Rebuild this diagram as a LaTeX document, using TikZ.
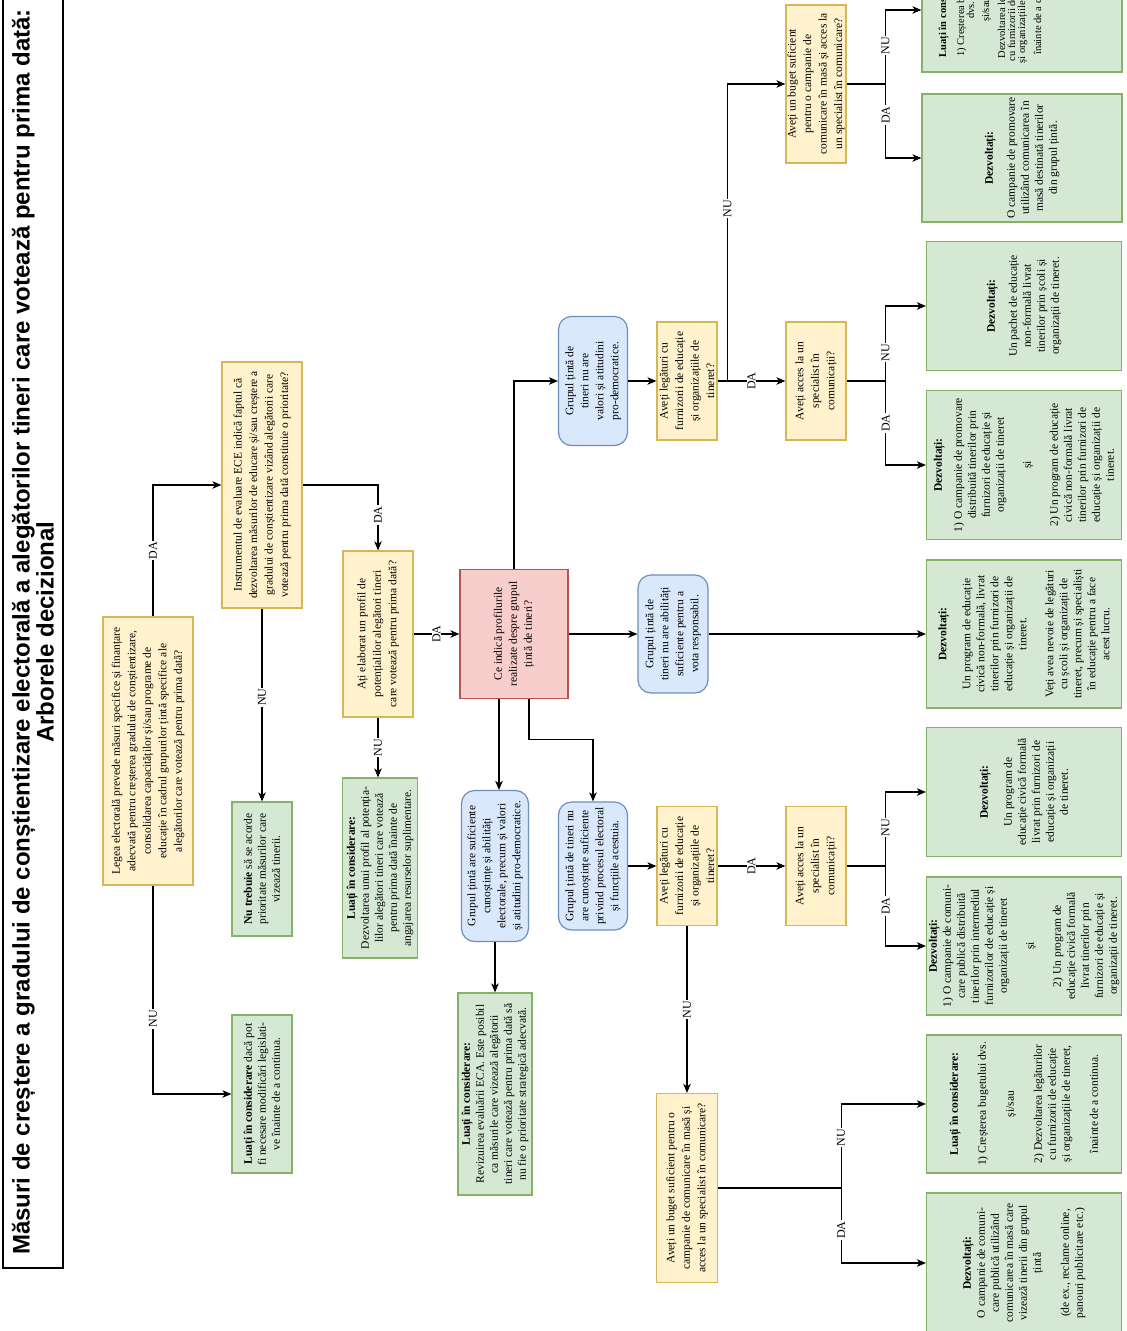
\documentclass[tikz,border=0pt]{standalone}
\usepackage{fontspec}
\setmainfont{Liberation Serif}
\newfontfamily\titlefont{Liberation Sans}
\usetikzlibrary{arrows.meta}

\definecolor{yelfill}{HTML}{FFF2CC}
\definecolor{yeldraw}{HTML}{D6B656}
\definecolor{grnfill}{HTML}{D5E8D4}
\definecolor{grndraw}{HTML}{82B366}
\definecolor{blufill}{HTML}{DAE8FC}
\definecolor{bludraw}{HTML}{6C8EBF}
\definecolor{rdfill}{HTML}{F8CECC}
\definecolor{rddraw}{HTML}{B85450}

\tikzset{
  sz/.style 2 args={minimum height=#1, minimum width=#2},
  card/.style={align=center, inner sep=1pt, line width=1.2pt},
  yelbox/.style={card, fill=yelfill, draw=yeldraw, font=\fontsize{11.5}{15.5}\selectfont},
  grnbox/.style={card, fill=grnfill, draw=grndraw, font=\fontsize{11.5}{14}\selectfont},
  blubox/.style={card, fill=blufill, draw=bludraw, rounded corners=13pt, font=\fontsize{11.5}{15}\selectfont},
  rdbox/.style={card, fill=rdfill, draw=rddraw, font=\fontsize{11.5}{15}\selectfont},
  arr/.style={-{Stealth[length=9pt,width=7.5pt,inset=2.5pt]}, line width=1.2pt},
  lbl/.style={fill=white, inner sep=1pt, font=\fontsize{12}{13}\selectfont},
}

\begin{document}
\begin{tikzpicture}[x=1pt, y=-1pt, every node/.style={rotate=90}]
\useasboundingbox (0,0) rectangle (1127,1331);
\clip (0,0) rectangle (1127,1331);

% title
\node[draw, line width=1.2pt, sz={60}{1272}, align=center, inner sep=0pt,
  font=\titlefont\bfseries\fontsize{24}{22}\selectfont] (title) at (33,632)
  {Măsuri de creștere a gradului de conștientizare electorală a alegătorilor tineri care votează pentru prima dată:\\Arborele decizional};

% first questions
\node[yelbox, sz={90}{268}] (lege) at (148,751) {Legea electorală prevede măsuri specifice și finanțare\\adecvată pentru creșterea gradului de conștientizare,\\consolidarea capacităților și/sau programe de\\educație în cadrul grupurilor țintă specifice ale\\alegătorilor care votează pentru prima dată?};
\node[yelbox, sz={80}{246}] (instr) at (262,485) {Instrumentul de evaluare ECE indică faptul că\\dezvoltarea măsurilor de educare și/sau creștere a\\gradului de conștientizare vizând alegătorii care\\votează pentru prima dată constituie o prioritate?};
\node[grnbox, sz={60}{134}] (noprio) at (262,869) {\textbf{Nu trebuie} să se acorde\\prioritate măsurilor care\\vizează tinerii.};
\node[grnbox, sz={60}{158}] (legis) at (262,1094) {\textbf{Luați în considerare} dacă pot\\fi necesare modificări legislati-\\ve înainte de a continua.};

\node[yelbox, sz={70}{166}] (profil) at (378,634) {Ați elaborat un profil de\\potențialilor alegători tineri\\care votează pentru prima dată?};
\node[grnbox, sz={75}{180}] (noprofil) at (380,868) {\textbf{Luați în considerare:}\\Dezvoltarea unui profil al potenția-\\lilor alegători tineri care votează\\pentru prima dată înainte de\\angajarea resurselor suplimentare.};

% profile results
\node[rdbox, sz={108}{129}] (ce) at (514,634) {Ce indică profilurile\\realizate despre grupul\\țintă de tineri?};
\node[blubox, sz={67}{151}] (suf) at (495,866) {Grupul țintă are suficiente\\cunoștințe și abilități\\electorale, precum și valori\\și atitudini pro-democratice.};
\node[grnbox, sz={74}{202}] (eca) at (495,1094) {\textbf{Luați în considerare:}\\Revizuirea evaluării ECA. Este posibil\\ca măsurile care vizează alegătorii\\tineri care votează pentru prima dată să\\nu fie o prioritate strategică adecvată.};

\node[blubox, sz={69}{129}] (val) at (593,381) {Grupul țintă de\\tineri nu are\\valori și atitudini\\pro-democratice.};
\node[blubox, sz={70}{118}] (abil) at (673,634) {Grupul țintă de\\tineri nu are abilități\\suficiente pentru a\\vota responsabil.};
\node[blubox, sz={69}{128}] (cun) at (593,866) {Grupul țintă de tineri nu\\are cunoștințe suficiente\\privind procesul electoral\\și funcțiile acestuia.};

\node[yelbox, sz={60}{118}] (leg1) at (687,381) {Aveți legături cu\\furnizorii de educație\\și organizațiile de\\tineret?};
\node[yelbox, sz={60}{119}] (leg2) at (687,866) {Aveți legături cu\\furnizorii de educație\\și organizațiile de\\tineret?};

\node[yelbox, sz={60}{158}] (bug1) at (816,84) {Aveți un buget suficient\\pentru o campanie de\\comunicare în masă și acces la\\un specialist în comunicare?};
\node[yelbox, sz={60}{118}] (acc1) at (816,381) {Aveți acces la un\\specialist în\\comunicații?};
\node[yelbox, sz={60}{119}] (acc2) at (816,866) {Aveți acces la un\\specialist în\\comunicații?};
\node[yelbox, sz={61}{189}] (bug2) at (687,1188) {Aveți un buget suficient pentru o\\campanie de comunicare în masă și\\acces la un specialist în comunicare?};

% outcomes
\node[grnbox, sz={200}{124}, font=\fontsize{10.5}{10}\selectfont] (r1) at (1022,10) {\textbf{Luați în considerare:}\\[8pt]1) Creșterea bugetului\\dvs.\\[5pt]și/sau\\[6pt]Dezvoltarea legăturilor\\cu furnizorii de educație\\și organizațiile de tineret,\\[6pt]înainte de a continua.\\[54pt]\mbox{}};
\node[grnbox, sz={200}{128}] (r2) at (1022,158) {\textbf{Dezvoltați:}\\[8pt]O campanie de promovare\\utilizând comunicarea în\\masă destinată tinerilor\\din grupul țintă.};
\node[grnbox, sz={195}{129}] (r3) at (1024,306) {\textbf{Dezvoltați:}\\[8pt]Un pachet de educație\\non-formală livrat\\tinerilor prin școli și\\organizații de tineret.};
\node[grnbox, sz={195}{149}] (r4) at (1024,465) {\textbf{Dezvoltați:}\\[6pt]1) O campanie de promovare\\distribuită tinerilor prin\\furnizori de educație și\\organizații de tineret\\[13pt]și\\[13pt]2) Un program de educație\\civică non-formală livrat\\tinerilor prin furnizori de\\educație și organizații de\\tineret.};
\node[grnbox, sz={195}{148}] (r5) at (1024,634) {\textbf{Dezvoltați:}\\[10pt]Un program de educație\\civică non-formală, livrat\\tinerilor prin furnizori de\\educație și organizații de\\tineret.\\[13pt]Veți avea nevoie de legături\\cu școli și organizații de\\tineret, precum și specialiști\\în educație pentru a face\\acest lucru.};
\node[grnbox, sz={195}{129}] (r6) at (1024,792) {\textbf{Dezvoltați:}\\[10pt]Un program de\\educație civică formală\\livrat prin furnizori de\\educație și organizații\\de tineret.};
\node[grnbox, sz={195}{138}] (r7) at (1024,946) {\textbf{Dezvoltați:}\\1) O campanie de comuni-\\care publică distribuită\\tinerilor prin intermediul\\furnizorilor de educație și\\organizații de tineret\\[13pt]și\\[13pt]2) Un program de\\educație civică formală\\livrat tinerilor prin\\furnizori de educație și\\organizații de tineret.};
\node[grnbox, sz={195}{138}] (r8) at (1024,1104) {\textbf{Luați în considerare:}\\[14pt]1) Creșterea bugetului dvs.\\[14pt]și/sau\\[14pt]2) Dezvoltarea legăturilor\\cu furnizorii de educație\\și organizațiile de tineret,\\[14pt]înainte de a continua.};
\node[grnbox, sz={195}{140}] (r9) at (1024,1263) {\textbf{Dezvoltați:}\\O campanie de comuni-\\care publică utilizând\\comunicarea în masă care\\vizează tinerii din grupul\\țintă\\[14pt](de ex., reclame online,\\panouri publicitare etc.)};

% connectors
\draw[arr] ([xshift=5pt]lege.east) |- node[lbl, pos=0.25]{DA} (instr);
\draw[arr] ([xshift=5pt]lege.west) |- node[lbl, pos=0.32]{NU} (legis);
\draw[arr] (instr) -| node[lbl, pos=0.73]{DA} (profil);
\draw[arr] (instr) -- node[lbl, pos=0.46]{NU} (noprio);
\draw[arr] (profil) -- node[lbl]{DA} (ce);
\draw[arr] (profil) -- node[lbl]{NU} (profil |- noprofil.east);

\draw[arr] (ce) |- (val);
\draw[arr] (ce) -- (abil);
\draw[arr] ([xshift=-15pt]ce.west) -- ([xshift=-15pt]ce.west |- suf.east);
\draw[arr] ([xshift=15pt]ce.west) -- ++(0,40) -| (cun);
\draw[arr] (suf) -- (eca);

\draw[arr] (val) -- (leg1);
\draw[arr] (abil) -- (r5);
\draw[arr] (cun) -- (leg2);

\draw[arr] (leg1) -- node[lbl]{DA} (acc1);
\draw[arr] ([xshift=10pt]leg1.south) |- node[lbl, pos=0.29]{NU} (bug1);
\draw[arr] (leg2) -- node[lbl]{DA} (acc2);
\draw[arr] (leg2) -- node[lbl]{NU} (bug2);

\draw[line width=1.2pt] (bug1.south) -- ++(39,0) coordinate (f0);
\draw[arr] (f0) |- node[lbl, pos=0.26]{NU} (r1);
\draw[arr] (f0) |- node[lbl, pos=0.21]{DA} (r2);
\draw[line width=1.2pt] (acc1.south) -- ++(39,0) coordinate (f1);
\draw[arr] (f1) |- node[lbl, pos=0.19]{NU} (r3);
\draw[arr] (f1) |- node[lbl, pos=0.25]{DA} (r4);
\draw[line width=1.2pt] (acc2.south) -- ++(39,0) coordinate (f2);
\draw[arr] (f2) |- node[lbl, pos=0.26]{NU} (r6);
\draw[arr] (f2) |- node[lbl, pos=0.25]{DA} (r7);
\draw[line width=1.2pt] (bug2.south) -- ++(123,0) coordinate (f3);
\draw[arr] (f3) |- node[lbl, pos=0.3]{NU} (r8);
\draw[arr] (f3) |- node[lbl, pos=0.28]{DA} (r9);
\end{tikzpicture}
\end{document}
